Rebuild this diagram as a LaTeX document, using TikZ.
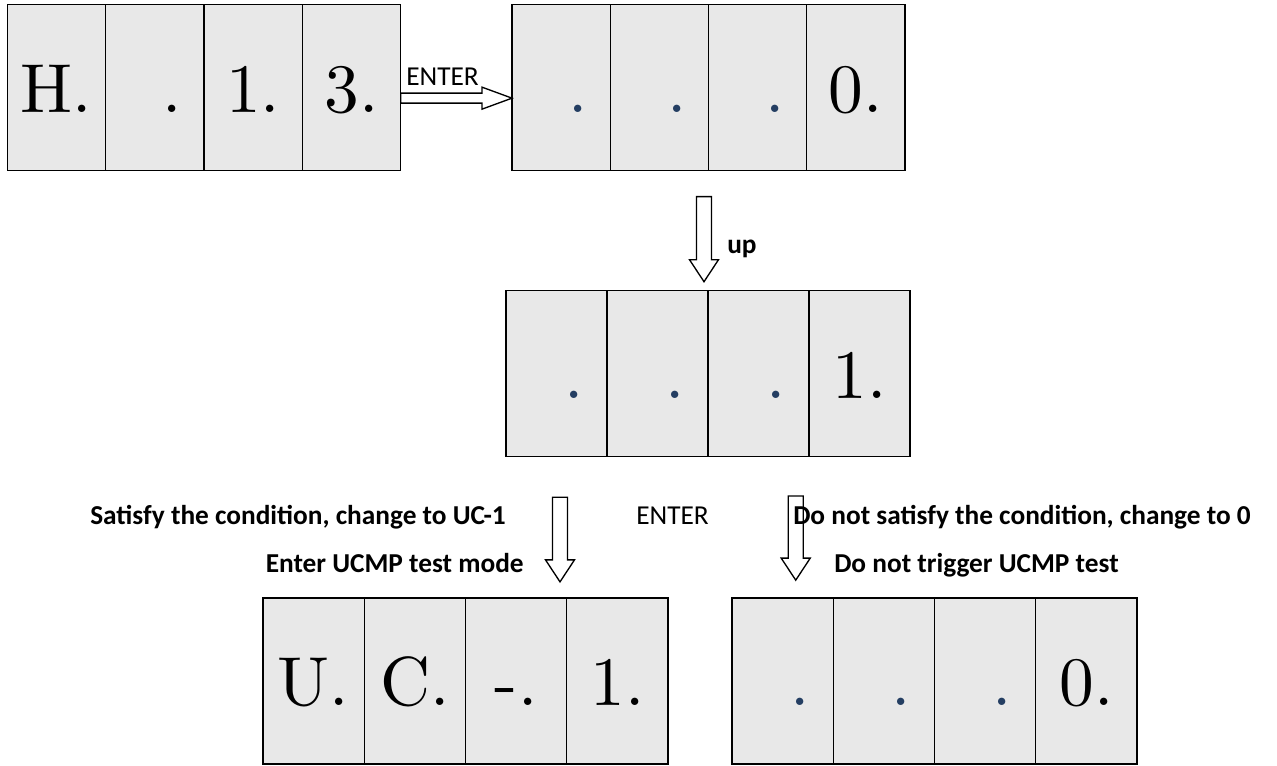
\documentclass[tikz,border=0pt]{standalone}
\usepackage{fontspec}
\setsansfont{Carlito}
\newfontfamily\segfont{lmroman10-regular}[Extension=.otf]
\usetikzlibrary{calc}
\definecolor{cellgray}{RGB}{232,232,232}
\definecolor{dotblue}{RGB}{36,62,98}
\newcommand{\bdot}{\phantom{0}\textcolor{dotblue}{.}}

\begin{document}
\begin{tikzpicture}[x=0.75pt, y=-0.75pt,
  cell/.style={draw, fill=cellgray, line width=1pt, outer sep=0pt, inner sep=0pt, minimum height=166*0.75pt, text height=36.8pt, text depth=0pt, font=\segfont\fontsize{52}{60}\selectfont},
  lbl/.style={font=\sffamily\fontsize{20.5}{24}\selectfont, inner sep=0pt},
  cond/.style={lbl, font=\sffamily\bfseries\fontsize{20.5}{24}\selectfont},
  hollow/.style={draw, fill=white, line width=1pt, line join=miter},
  right arrow/.style={to path={($(\tikztostart)+(0,-5)$) -- ($(\tikztotarget)+(-30,-5)$) -- ($(\tikztotarget)+(-30,-11)$) -- (\tikztotarget) -- ($(\tikztotarget)+(-30,11)$) -- ($(\tikztotarget)+(-30,5)$) -- ($(\tikztostart)+(0,5)$) -- cycle}},
  down arrow/.style={to path={($(\tikztostart)+(-7.5,0)$) -- ($(\tikztotarget)+(-7.5,-22)$) -- ($(\tikztotarget)+(-14.5,-22)$) -- (\tikztotarget) -- ($(\tikztotarget)+(14.5,-22)$) -- ($(\tikztotarget)+(7.5,-22)$) -- ($(\tikztostart)+(7.5,0)$) -- cycle}}]
	\useasboundingbox (0,0) rectangle (1277,765);
	% displays
	\foreach \t [count=\i] in {H., \phantom{0}., 1., 3.} {\node[cell, minimum width=98.35*0.75pt] (h\i) at ({7.3+98.35*(\i-0.5)}, 87.65) {\t};}
	\foreach \t [count=\i] in {\bdot, \bdot, \bdot, 0.} {\node[cell, minimum width=98.25*0.75pt] (z\i) at ({512+98.25*(\i-0.5)}, 87.65) {\t};}
	\foreach \t [count=\i] in {\bdot, \bdot, \bdot, 1.} {\node[cell, minimum width=101*0.75pt] (o\i) at ({506+101*(\i-0.5)}, 373.7) {\t};}
	\foreach \t [count=\i] in {U., C., -., 1.} {\node[cell, minimum width=101.25*0.75pt] (u\i) at ({263+101.25*(\i-0.5)}, 680.85) {\t};}
	\foreach \t [count=\i] in {\bdot, \bdot, \bdot, 0.} {\node[cell, minimum width=101.25*0.75pt] (r\i) at ({732+101.25*(\i-0.5)}, 680.85) {\t};}
	% arrow ends
	\coordinate (eA) at ($(h4.east)+(0,10.5)$);
	\coordinate (eB) at ($(z1.west)+(0,10.5)$);
	\coordinate (upB) at ($(o3.north west)+(-4,-9)$);
	\coordinate (upA) at ($(upB |- z3.south)+(0,26)$);
	\coordinate (lB) at ($(u4.north west)+(-6.75,-16)$);
	\coordinate (lA) at ($(lB |- o1.south)+(0,40.5)$);
	\coordinate (rB) at ($(r1.north)+(13.1,-17.7)$);
	\coordinate (rA) at ($(rB |- o3.south)+(0,39.3)$);
	\draw[hollow, right arrow] (eA) to (eB);
	\draw[hollow, down arrow] (upA) to (upB);
	\draw[hollow, down arrow] (lA) to (lB);
	\draw[hollow, down arrow] (rA) to (rB);
	% labels
	\node[lbl, anchor=base west] (enter1) at (406,85) {ENTER};
	\node[cond, anchor=base west] (up) at (727,253) {up};
	\node[lbl, anchor=base west] (enter2) at (636,524) {ENTER};
	\node[cond, anchor=base east] (yes1) at (506,524) {Satisfy the condition, change to UC-1};
	\node[cond, anchor=base east] (yes2) at (524,572) {Enter UCMP test mode};
	\node[cond, anchor=base west] (no1) at (793,524) {Do not satisfy the condition, change to 0};
	\node[cond, anchor=base west] (no2) at (834,572) {Do not trigger UCMP test};
\end{tikzpicture}
\end{document}
